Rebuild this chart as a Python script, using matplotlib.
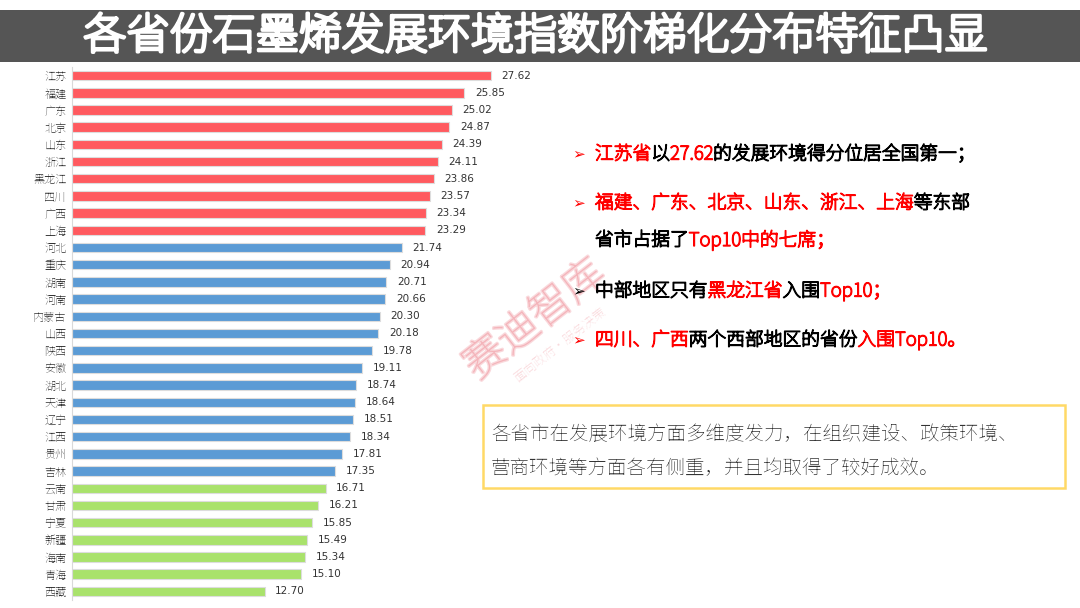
import glob
import matplotlib
matplotlib.use("Agg")
import matplotlib.pyplot as plt
import matplotlib.patheffects as pe
from matplotlib import font_manager
from matplotlib.patches import Rectangle

# make sure CJK font files are registered
for path in glob.glob("/usr/share/fonts/**/*CJK*", recursive=True) + \
        glob.glob("/usr/share/fonts/**/NotoSansSC*", recursive=True):
    try:
        font_manager.fontManager.addfont(path)
    except Exception:
        pass

plt.rcParams["font.family"] = ["Noto Sans CJK SC", "Noto Sans SC", "Noto Sans CJK JP",
                               "WenQuanYi Zen Hei", "Droid Sans Fallback", "DejaVu Sans"]

provinces = ["江苏", "福建", "广东", "北京", "山东", "浙江", "黑龙江", "四川", "广西", "上海",
             "河北", "重庆", "湖南", "河南", "内蒙古", "山西", "陕西", "安徽", "湖北", "天津",
             "辽宁", "江西", "贵州", "吉林", "云南", "甘肃", "宁夏", "新疆", "海南", "青海", "西藏"]
scores = [27.62, 25.85, 25.02, 24.87, 24.39, 24.11, 23.86, 23.57, 23.34, 23.29,
          21.74, 20.94, 20.71, 20.66, 20.30, 20.18, 19.78, 19.11, 18.74, 18.64,
          18.51, 18.34, 17.81, 17.35, 16.71, 16.21, 15.85, 15.49, 15.34, 15.10, 12.70]
tiers = [0] * 10 + [1] * 14 + [2] * 7

RED = "#FF5A5F"
BLUE = "#5B9BD5"
GREEN = "#A9E26B"
TXT_RED = "#FF0000"
tier_colors = [RED, BLUE, GREEN]


def heavy(color, lw=0.9):
    return [pe.withStroke(linewidth=lw, foreground=color)]


W, H = 1080, 608
fig = plt.figure(figsize=(W / 100, H / 100), dpi=100, facecolor="white")

# full-figure overlay in pixel coords
bg = fig.add_axes([0, 0, 1, 1])
bg.set_xlim(0, W)
bg.set_ylim(H, 0)
bg.axis("off")
bg.add_patch(Rectangle((0, 10), W, 52, facecolor="#555555", edgecolor="none"))
bg.text(W / 2 - 5, 37, "各省份石墨烯发展环境指数阶梯化分布特征凸显", color="white",
        fontsize=31, fontweight="bold", ha="center", va="center",
        path_effects=heavy("white", 2.4))

# bar chart
ax = fig.add_axes([72 / W, 1 - 600 / H, 531 / W, 533 / H])
ax.patch.set_visible(False)
ypos = list(range(len(provinces)))
ax.barh(ypos, scores, height=0.55, color=[tier_colors[t] for t in tiers],
        edgecolor="#dddddd", linewidth=0.8)
for y, v in zip(ypos, scores):
    ax.text(v + 0.7, y, f"{v:.2f}", va="center", ha="left", fontsize=7.5,
            color="#333333", fontfamily="DejaVu Sans")
ax.set_yticks(ypos)
ax.set_yticklabels(provinces, fontsize=8, color="#333333")
ax.set_xlim(0, 35)
ax.set_ylim(len(provinces) - 0.5, -0.5)
ax.set_xticks([])
ax.tick_params(axis="y", length=0, pad=4)
for s in ["top", "right", "bottom"]:
    ax.spines[s].set_visible(False)
ax.spines["left"].set_color("#d9d9d9")

# watermark
bg.text(535, 320, "赛迪智库", fontsize=30, fontweight="bold", color="#f2a0a8",
        alpha=0.4, rotation=38, ha="center", va="center",
        path_effects=heavy("#f2a0a8", 2))
bg.text(560, 345, "面向政府·服务决策", fontsize=9, color="#f2a0a8",
        alpha=0.4, rotation=38, ha="center", va="center")

renderer = fig.canvas.get_renderer()


def rich(x, y, parts, size=13.5):
    for txt, col in parts:
        t = bg.text(x, y, txt, color=col, fontsize=size, fontweight="bold",
                    ha="left", va="center", path_effects=heavy(col, 1.0))
        x += t.get_window_extent(renderer).width


def bullet(y, col):
    bg.text(572, y, "➢", color=col, fontsize=11, ha="left", va="center",
            fontfamily="DejaVu Sans")


bullet(154, TXT_RED)
rich(595, 154, [("江苏省", TXT_RED), ("以", "black"), ("27.62", TXT_RED),
                ("的发展环境得分位居全国第一；", "black")])
bullet(203, TXT_RED)
rich(595, 203, [("福建、广东、北京、山东、浙江、上海", TXT_RED), ("等东部", "black")])
rich(595, 240, [("省市占据了", "black"), ("Top10中的七席；", TXT_RED)])
bullet(291, "black")
rich(595, 291, [("中部地区只有", "black"), ("黑龙江省", TXT_RED), ("入围", "black"),
                ("Top10；", TXT_RED)])
bullet(340, TXT_RED)
rich(595, 340, [("四川、广西", TXT_RED), ("两个西部地区的省份", "black"),
                ("入围Top10。", TXT_RED)])

# conclusion box
bg.add_patch(Rectangle((483, 405), 582, 83, facecolor="white", edgecolor="#FFD966",
                       linewidth=1.8))
bg.text(491, 434, "各省市在发展环境方面多维度发力，在组织建设、政策环境、",
        fontsize=14, color="#333333", va="center")
bg.text(491, 468, "营商环境等方面各有侧重，并且均取得了较好成效。",
        fontsize=14, color="#333333", va="center")

fig.savefig("out.png", dpi=100, facecolor="white")
